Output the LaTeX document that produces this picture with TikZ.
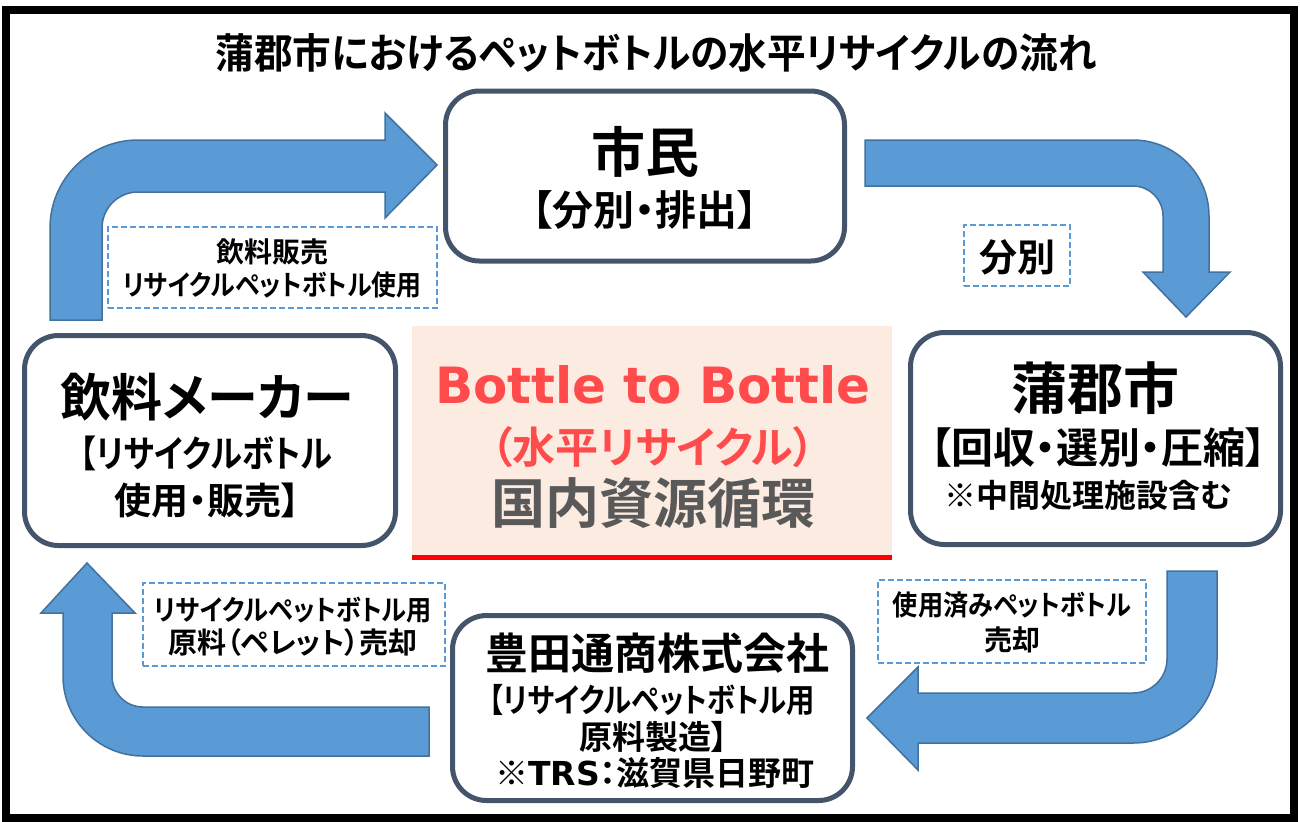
\documentclass[tikz,border=0pt]{standalone}
\usepackage{graphicx}
\usepackage{fontspec}
\setmainfont{Noto Sans CJK JP Bold}[RawFeature={+palt}]
\newfontfamily\dvb{DejaVu Sans Bold}
\definecolor{afill}{HTML}{5B9BD5}
\definecolor{aline}{HTML}{41719C}
\definecolor{bline}{HTML}{44546A}
\definecolor{dline}{HTML}{5B9BD5}
\definecolor{cfill}{HTML}{FBEBE0}
\definecolor{redtxt}{HTML}{FF4B4B}
\definecolor{graytxt}{HTML}{595959}
\newcommand{\fsz}[1]{\fontsize{#1}{#1}\selectfont}
\newcommand{\hsc}[2]{\scalebox{#1}[1]{#2}}
\begin{document}
\begin{tikzpicture}[x=0.5pt,y=-0.5pt,
  arr/.style={fill=afill, draw=aline, line width=0.75pt, line join=miter},
  box/.style={draw=bline, line width=2.5pt, rounded corners=17pt, fill=white, inner sep=0pt},
  lab/.style={draw=dline, line width=0.75pt, dash pattern=on 3pt off 1.5pt, fill=white, inner sep=0pt},
  txt/.style={inner sep=0pt, align=center, text=black}]
\useasboundingbox[fill=white] (0,0) rectangle (1300,821);
\draw[line width=4pt] (6,10) rectangle (1294,818);
% title
\node[txt] (title) at (656,53) {\fsz{20.5pt}\hsc{0.943}{蒲郡市におけるペットボトルの水平リサイクルの流れ}};
% arrows
\draw[arr] (50,320) -- (50,228) arc[start angle=180,end angle=270,radius=88] -- (385,140) -- (385,113) -- (437,165) -- (385,218) -- (385,192) -- (138,192) arc[start angle=270,end angle=180,radius=36] -- (102,320) -- cycle;
\draw[arr] (865,140) -- (1133,140) arc[start angle=270,end angle=360,radius=76] -- (1209,272) -- (1230,272) -- (1186,317) -- (1143,272) -- (1163,272) -- (1163,216) arc[start angle=0,end angle=-90,radius=30] -- (865,186) -- cycle;
\draw[arr] (1167,571) -- (1217,571) -- (1217,659) arc[start angle=0,end angle=90,radius=84] -- (918,743) -- (918,770) -- (867,718) -- (918,667) -- (918,693) -- (1133,693) arc[start angle=90,end angle=0,radius=34] -- cycle;
\draw[arr] (429,707) -- (429,756) -- (143,756) arc[start angle=90,end angle=180,radius=80] -- (63,613) -- (41,613) -- (87,563) -- (135,613) -- (112,613) -- (112,676) arc[start angle=180,end angle=90,radius=31] -- cycle;
% main boxes
\node[box, minimum width=199.5pt, minimum height=85pt] (shimin) at (645,176) {};
\node[box, minimum width=185pt, minimum height=106pt] (gamagori) at (1095.5,438.5) {};
\node[box, minimum width=185.5pt, minimum height=105pt] (maker) at (210,440.5) {};
\node[box, minimum width=200pt, minimum height=92.5pt] (toyota) at (652.5,708) {};
% center
\node[fill=cfill, inner sep=0pt, minimum width=240pt, minimum height=115.5pt] (center) at (652,441.5) {};
\draw[red, line width=2.5pt] (center.south west) -- (center.south east);
% labels
\node[lab, minimum width=164.5pt, minimum height=40.5pt] (l1) at (272.5,267.5) {};
\node[lab, minimum width=53pt, minimum height=30.5pt] (l2) at (1017,255.5) {};
\node[lab, minimum width=151pt, minimum height=41.5pt] (l3) at (294,624.5) {};
\node[lab, minimum width=134pt, minimum height=41.5pt] (l4) at (1012,621.5) {};
% texts
\node[txt] (l1a) at (272,252) {\fsz{14pt}飲料販売};
\node[txt] (l1b) at (272,285) {\fsz{14pt}\hsc{0.89}{リサイクルペットボトル使用}};
\node[txt] (l2a) at (1017,257) {\fsz{19pt}分別};
\node[txt] (l3a) at (293,610) {\fsz{14pt}\hsc{0.9}{リサイクルペットボトル用}};
\node[txt] (l3b) at (293,642) {\fsz{14.5pt}原料（ペレット）売却};
\node[txt] (l4a) at (1012,605) {\fsz{14pt}\hsc{0.9}{使用済みペットボトル}};
\node[txt] (l4b) at (1012,640) {\fsz{14pt}売却};
\node[txt] (s1) at (645,152) {\fsz{27pt}市民};
\node[txt] (s2) at (645,210) {\fsz{20.5pt}【分別・排出】};
\node[txt] (g1) at (1095,388) {\fsz{28pt}蒲郡市};
\node[txt] (g2) at (1098,448) {\fsz{21pt}【回収・選別・圧縮】};
\node[txt] (g3) at (1088,495) {\fsz{16pt}※中間処理施設含む};
\node[txt] (m1) at (207,397) {\fsz{25.5pt}飲料メーカー};
\node[txt] (m2) at (206,453) {\fsz{18.5pt}\hsc{0.87}{【リサイクルボトル}};
\node[txt] (m3) at (207,500) {\fsz{18.5pt}使用・販売】};
\node[txt] (t1) at (657,653) {\fsz{21.5pt}豊田通商株式会社};
\node[txt] (t2) at (652,700) {\fsz{16.5pt}\hsc{0.86}{【リサイクルペットボトル用}};
\node[txt] (t3) at (654,737) {\fsz{16.5pt}原料製造】};
\node[txt] (t4) at (655,773) {\fsz{16.5pt}※{\dvb TRS}：滋賀県日野町};
\node[txt, text=redtxt] (c1) at (653,385) {\dvb\fsz{25pt}Bottle to Bottle};
\node[txt, text=redtxt] (c2) at (653,447) {\fsz{21.5pt}（水平リサイクル）};
\node[txt, text=graytxt] (c3) at (653,503) {\fsz{27pt}国内資源循環};
\end{tikzpicture}
\end{document}
